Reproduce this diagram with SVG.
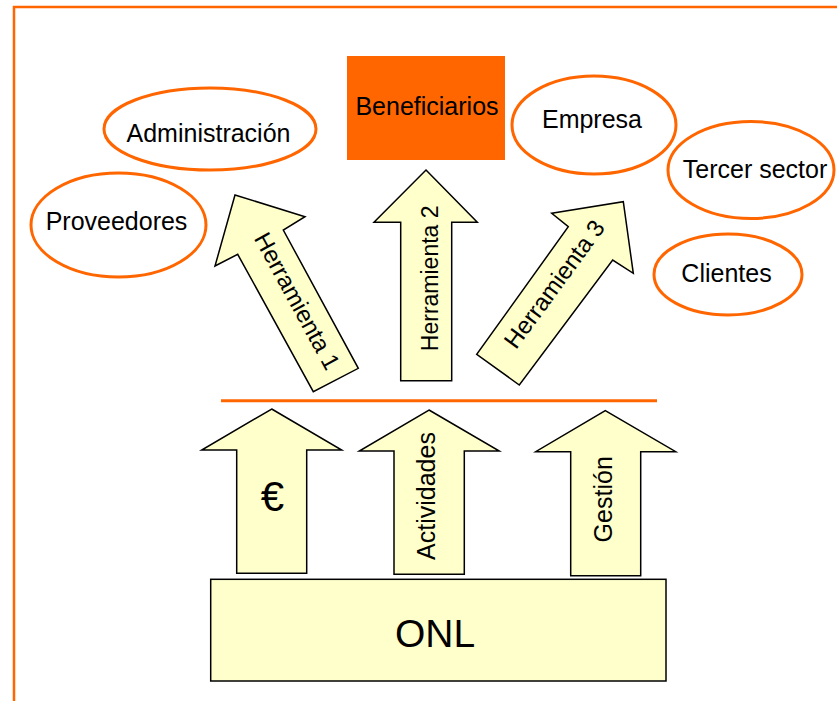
<svg xmlns="http://www.w3.org/2000/svg" width="837" height="701" viewBox="0 0 837 701">
<style>
.t{font-family:"Liberation Sans",Arial,sans-serif;font-size:25px;fill:#000;text-anchor:middle}
.ell{fill:#fff;stroke:#FF6600;stroke-width:3}
.arr{fill:#FFFFCC;stroke:#000;stroke-width:1.5;stroke-linejoin:miter}
</style>
<rect width="837" height="701" fill="#fff"/>
<path d="M14,701 V7 H837" fill="none" stroke="#FF6600" stroke-width="2.5"/>
<g id="beneficiarios">
<rect x="347" y="56" width="158" height="104" fill="#FF6600"/>
<text class="t" x="427" y="115">Beneficiarios</text>
</g>
<g id="administracion">
<ellipse class="ell" cx="210" cy="129" rx="106" ry="41"/>
<text class="t" x="208.5" y="142">Administración</text>
</g>
<g id="proveedores">
<ellipse class="ell" cx="118.5" cy="225" rx="87.5" ry="52"/>
<text class="t" x="116.5" y="230">Proveedores</text>
</g>
<g id="empresa">
<ellipse class="ell" cx="594" cy="125" rx="82" ry="49"/>
<text class="t" x="592" y="128">Empresa</text>
</g>
<g id="tercer-sector">
<ellipse class="ell" cx="751" cy="170" rx="83" ry="48.5"/>
<text class="t" x="755" y="178">Tercer sector</text>
</g>
<g id="clientes">
<ellipse class="ell" cx="728" cy="274.5" rx="74" ry="40.5"/>
<text class="t" x="726.5" y="282">Clientes</text>
</g>
<g id="connectors">
<g id="herramienta-1">
<polygon class="arr" points="235,195 305,216.7 283.3,230 358.3,368.3 313.3,391.7 237.7,254.3 215,266"/>
<text class="t" style="font-size:24px" transform="translate(290,305) rotate(61.4)">Herramienta 1</text>
</g>
<g id="herramienta-2">
<polygon class="arr" points="426,170 477.3,222.3 451.7,222.3 451.7,380.7 400.7,380.7 400.7,222.3 374,222.3"/>
<text class="t" style="font-size:23px" transform="translate(437.5,278.3) rotate(-90)">Herramienta 2</text>
</g>
<g id="herramienta-3">
<polygon class="arr" points="623.3,201.7 633.3,273.3 612.7,260 519.3,385 476.7,354.3 568.3,226.7 551.7,213.3"/>
<text class="t" style="font-size:24px" transform="translate(561,289) rotate(-53.8)">Herramienta 3</text>
</g>
<line id="separador" x1="221" y1="400.7" x2="657" y2="400.7" stroke="#FF6600" stroke-width="3"/>
<g id="euro">
<polygon class="arr" points="271.7,409 341.7,450 306.7,450 306.7,573.3 236.7,573.3 236.7,450 201.7,450"/>
<text class="t" style="font-size:42px" x="272.5" y="511">€</text>
</g>
<g id="actividades">
<polygon class="arr" points="429,410 499.3,451 464.3,451 464.3,574.3 394,574.3 394,451 359.3,451"/>
<text class="t" transform="translate(434.5,496) rotate(-90)">Actividades</text>
</g>
<g id="gestion">
<polygon class="arr" points="605.3,410.7 675.7,451.7 640.7,451.7 640.7,575.7 570.7,575.7 570.7,451.7 535.7,451.7"/>
<text class="t" transform="translate(612,499.3) rotate(-90)">Gestión</text>
</g>
</g>
<g id="onl">
<rect x="210.7" y="579.3" width="455.3" height="101.7" fill="#FFFFCC" stroke="#000" stroke-width="1.5"/>
<text class="t" style="font-size:39px" x="435" y="646.7">ONL</text>
</g>
</svg>
